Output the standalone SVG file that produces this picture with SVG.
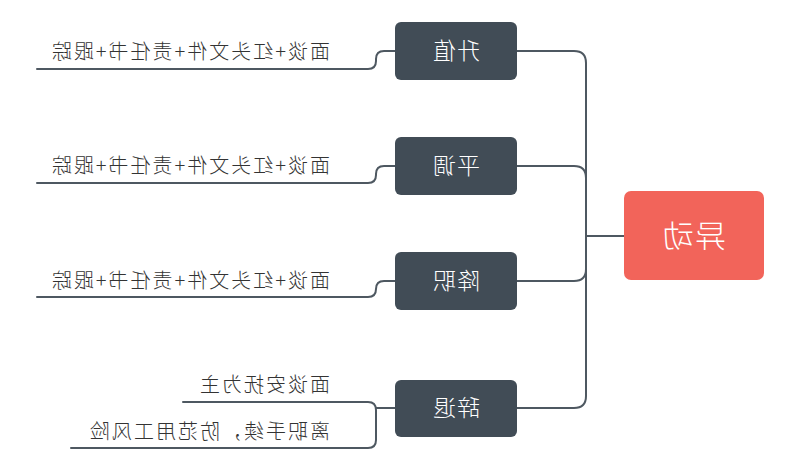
<svg xmlns="http://www.w3.org/2000/svg" width="800" height="470" viewBox="0 0 800 470">
<style>
.ln{fill:none;stroke:#4E5861;stroke-width:2;stroke-linecap:round;stroke-linejoin:round}
.node{fill:#414C56}
.root{fill:#F2645A}
.nt{font-family:"Noto Sans CJK SC","Noto Sans CJK JP",sans-serif;fill:#FFFFFF;text-anchor:middle;font-weight:300}
.lt{font-family:"Noto Sans CJK SC","Noto Sans CJK JP",sans-serif;fill:#333333;font-size:20px;letter-spacing:2px;font-weight:300}
</style>
<rect width="800" height="470" fill="#FFFFFF"/>
<g transform="translate(800,0) scale(-1,1)">
<g id="connectors">
<path class="ln" d="M176 236 H214"/>
<path class="ln" d="M214 236 V63 Q214 51 226 51 H283"/>
<path class="ln" d="M214 236 V178 Q214 166 226 166 H283"/>
<path class="ln" d="M214 236 V269 Q214 281 226 281 H283"/>
<path class="ln" d="M214 236 V396 Q214 408 226 408 H283"/>
<path class="ln" d="M405 51 H416 Q424 51 424 59 V61 Q424 69 432 69 H763"/>
<path class="ln" d="M405 166 H416 Q424 166 424 174 V175 Q424 183 432 183 H763"/>
<path class="ln" d="M405 281 H416 Q424 281 424 289 V289 Q424 297 432 297 H763"/>
<path class="ln" d="M405 408 H424"/>
<path class="ln" d="M617 402 H432 Q424 402 424 410 V440 Q424 448 432 448 H729"/>
</g>
<g id="root">
<rect class="root" x="36" y="191" width="140" height="89" rx="7"/>
<text class="nt" x="106" y="247" font-size="31" letter-spacing="1">异动</text>
</g>
<g id="n1">
<rect class="node" x="283" y="22" width="122" height="58" rx="6"/>
<text class="nt" x="344" y="59" font-size="23" letter-spacing="1">升值</text>
</g>
<g id="n2">
<rect class="node" x="283" y="137" width="122" height="58" rx="6"/>
<text class="nt" x="344" y="174" font-size="23" letter-spacing="1">平调</text>
</g>
<g id="n3">
<rect class="node" x="283" y="252" width="122" height="58" rx="6"/>
<text class="nt" x="344" y="289" font-size="23" letter-spacing="1">降职</text>
</g>
<g id="n4">
<rect class="node" x="283" y="380" width="122" height="57" rx="6"/>
<text class="nt" x="344" y="416" font-size="23" letter-spacing="1">辞退</text>
</g>
<g id="l1"><text class="lt" x="470" y="59">面谈+红头文件+责任书+跟踪</text></g>
<g id="l2"><text class="lt" x="470" y="173">面谈+红头文件+责任书+跟踪</text></g>
<g id="l3"><text class="lt" x="470" y="288">面谈+红头文件+责任书+跟踪</text></g>
<g id="l4"><text class="lt" x="470" y="392">面谈安抚为主</text></g>
<g id="l5"><text class="lt" x="470" y="439">离职手续，防范用工风险</text></g>
</g>
</svg>
